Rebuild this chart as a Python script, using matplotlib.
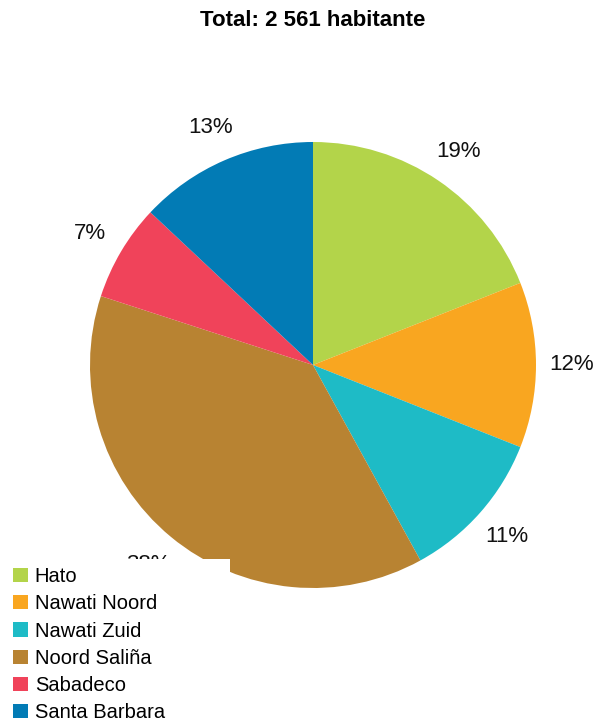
import matplotlib
matplotlib.use("Agg")
import matplotlib.pyplot as plt
from matplotlib.patches import Patch, Rectangle

plt.rcParams["font.family"] = ["Liberation Sans", "DejaVu Sans"]

# data
barios = ["Hato", "Nawati Noord", "Nawati Zuid", "Noord Saliña", "Sabadeco", "Santa Barbara"]
shares = [19, 12, 11, 38, 7, 13]
colors = ["#B3D44A", "#F9A620", "#1EBBC6", "#B88332", "#F0435A", "#027BB5"]
title = "Total: 2 561 habitante"

W, H = 594, 722
fig = plt.figure(figsize=(W / 100, H / 100), dpi=100)

# pie centre ~ (313, 365) px, radius ~ 223 px
cx, cy, r = 313, 365, 223
ax = fig.add_axes([(cx - r) / W, (H - cy - r) / H, 2 * r / W, 2 * r / H])
wedges, _, pcts = ax.pie(shares, colors=colors, startangle=90, counterclock=False,
                         autopct="%d%%", pctdistance=1.16, radius=1,
                         textprops=dict(fontsize=16, color="#111111"))
ax.set_xlim(-1, 1); ax.set_ylim(-1, 1)
ax.set_aspect("auto")
for t in pcts:
    t.set_clip_on(False)

fig.text(cx / W, 1 - 21 / H, title, ha="center", va="center",
         fontsize=16, fontweight="bold")

# white legend box covering the bottom-left of the pie
fig.patches.append(Rectangle((0, 0), 230 / W, (H - 559) / H, transform=fig.transFigure,
                             facecolor="white", edgecolor="none", zorder=5))
handles = [Patch(facecolor=c, edgecolor="none") for c in colors]
leg = fig.legend(handles, barios, loc="upper left", bbox_to_anchor=(9 / W, 1 - 563 / H),
                 frameon=False, fontsize=14.5, handlelength=0.72, handleheight=0.72,
                 handletextpad=0.36, labelspacing=0.41, borderpad=0.2, borderaxespad=0)
leg.set_zorder(6)

fig.savefig("out.png", dpi=100)
